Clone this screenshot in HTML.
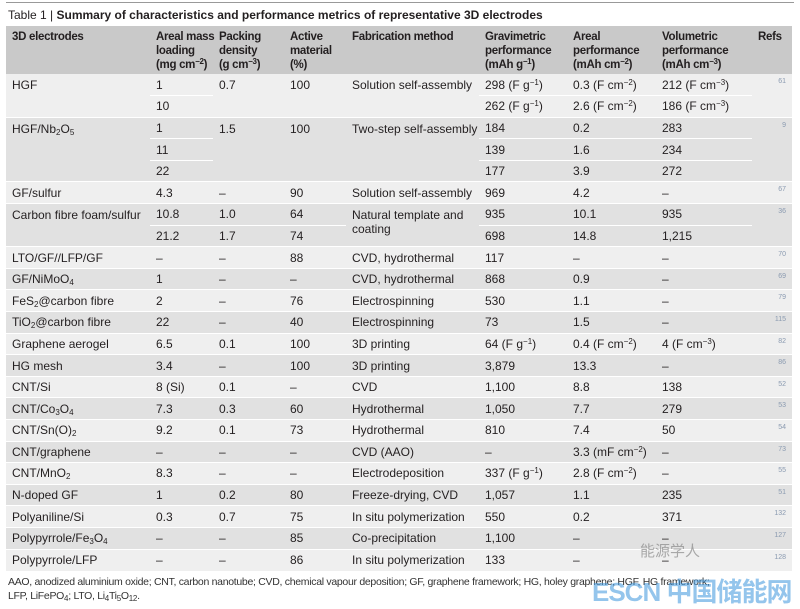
<!DOCTYPE html>
<html><head><meta charset="utf-8"><style>
html,body{margin:0;padding:0;background:#fff;}
body{width:800px;height:605px;position:relative;overflow:hidden;font-family:"Liberation Sans",Arial,sans-serif;color:#231f20;}
.topline{position:absolute;left:6px;right:6px;top:2px;height:1px;background:#999;}
.title{position:absolute;left:8px;top:8px;font-size:12px;white-space:nowrap;}
.title b{font-weight:bold;}
table{position:absolute;left:6px;top:26px;border-collapse:collapse;table-layout:fixed;width:786px;font-size:12px;}
td,th{padding:0 0 0 6px;text-align:left;vertical-align:middle;height:21.6px;white-space:nowrap;border-top:1px solid #fff;box-sizing:border-box;}
th{vertical-align:top;font-weight:bold;background:#c9c9c9;height:48px;padding-top:4px;line-height:14px;border-top:none;font-size:11.5px;letter-spacing:-0.3px;}
tbody.l td{background:#efefef;}
tbody.d td{background:#e1e1e1;}
td.top{vertical-align:top;padding-top:4px;}
td.ref{font-size:7px;color:#8a9ab0;text-align:right;padding-right:6px;vertical-align:top;padding-top:4px;}
td.nb{border-top:none;}
sub{font-size:8px;vertical-align:-2px;line-height:0;}
sup{font-size:8px;vertical-align:4px;line-height:0;}
.foot{position:absolute;left:8px;top:575px;font-size:10.5px;line-height:14px;color:#333;letter-spacing:-0.3px;}
.wm{position:absolute;left:592px;top:572px;font-size:26px;font-weight:bold;color:rgba(60,150,220,0.55);white-space:nowrap;font-family:"Liberation Sans","Noto Sans CJK SC",sans-serif;letter-spacing:-1px;}
.wm2{position:absolute;left:640px;top:540px;font-size:15px;color:rgba(120,120,120,0.6);font-family:"Liberation Sans","Noto Sans CJK SC",sans-serif;}
</style></head><body>
<div class="topline"></div>
<div class="title">Table 1 | <b>Summary of characteristics and performance metrics of representative 3D electrodes</b></div>
<table>
<colgroup><col style="width:144px"><col style="width:63px"><col style="width:71px"><col style="width:62px"><col style="width:133px"><col style="width:88px"><col style="width:89px"><col style="width:96px"><col style="width:40px"></colgroup>
<thead><tr><th>3D electrodes</th><th>Areal mass<br>loading<br>(mg cm<sup>−2</sup>)</th><th>Packing<br>density<br>(g cm<sup>−3</sup>)</th><th>Active<br>material<br>(%)</th><th>Fabrication method</th><th>Gravimetric<br>performance<br>(mAh g<sup>−1</sup>)</th><th>Areal<br>performance<br>(mAh cm<sup>−2</sup>)</th><th>Volumetric<br>performance<br>(mAh cm<sup>−3</sup>)</th><th>Refs</th></tr></thead>
<tbody class="l">
<tr><td rowspan="2" class="top nb">HGF</td><td class="nb">1</td><td rowspan="2" class="top nb">0.7</td><td rowspan="2" class="top nb">100</td><td rowspan="2" class="top nb">Solution self-assembly</td><td class="nb">298 (F g<sup>−1</sup>)</td><td class="nb">0.3 (F cm<sup>−2</sup>)</td><td class="nb">212 (F cm<sup>−3</sup>)</td><td rowspan="2" class="ref nb">61</td></tr>
<tr><td>10</td><td>262 (F g<sup>−1</sup>)</td><td>2.6 (F cm<sup>−2</sup>)</td><td>186 (F cm<sup>−3</sup>)</td></tr>
</tbody>
<tbody class="d">
<tr><td rowspan="3" class="top">HGF/Nb<sub>2</sub>O<sub>5</sub></td><td>1</td><td rowspan="3" class="top">1.5</td><td rowspan="3" class="top">100</td><td rowspan="3" class="top">Two-step self-assembly</td><td>184</td><td>0.2</td><td>283</td><td rowspan="3" class="ref">9</td></tr>
<tr><td>11</td><td>139</td><td>1.6</td><td>234</td></tr>
<tr><td>22</td><td>177</td><td>3.9</td><td>272</td></tr>
</tbody>
<tbody class="l"><tr><td>GF/sulfur</td><td>4.3</td><td>–</td><td>90</td><td>Solution self-assembly</td><td>969</td><td>4.2</td><td>–</td><td class="ref">67</td></tr></tbody>
<tbody class="d">
<tr><td rowspan="2" class="top">Carbon fibre foam/sulfur</td><td>10.8</td><td>1.0</td><td>64</td><td rowspan="2" class="top" style="line-height:14px">Natural template and<br>coating</td><td>935</td><td>10.1</td><td>935</td><td rowspan="2" class="ref">36</td></tr>
<tr><td>21.2</td><td>1.7</td><td>74</td><td>698</td><td>14.8</td><td>1,215</td></tr>
</tbody>
<tbody class="l"><tr><td>LTO/GF//LFP/GF</td><td>–</td><td>–</td><td>88</td><td>CVD, hydrothermal</td><td>117</td><td>–</td><td>–</td><td class="ref">70</td></tr></tbody>
<tbody class="d"><tr><td>GF/NiMoO<sub>4</sub></td><td>1</td><td>–</td><td>–</td><td>CVD, hydrothermal</td><td>868</td><td>0.9</td><td>–</td><td class="ref">69</td></tr></tbody>
<tbody class="l"><tr><td>FeS<sub>2</sub>@carbon fibre</td><td>2</td><td>–</td><td>76</td><td>Electrospinning</td><td>530</td><td>1.1</td><td>–</td><td class="ref">79</td></tr></tbody>
<tbody class="d"><tr><td>TiO<sub>2</sub>@carbon fibre</td><td>22</td><td>–</td><td>40</td><td>Electrospinning</td><td>73</td><td>1.5</td><td>–</td><td class="ref">115</td></tr></tbody>
<tbody class="l"><tr><td>Graphene aerogel</td><td>6.5</td><td>0.1</td><td>100</td><td>3D printing</td><td>64 (F g<sup>−1</sup>)</td><td>0.4 (F cm<sup>−2</sup>)</td><td>4 (F cm<sup>−3</sup>)</td><td class="ref">82</td></tr></tbody>
<tbody class="d"><tr><td>HG mesh</td><td>3.4</td><td>–</td><td>100</td><td>3D printing</td><td>3,879</td><td>13.3</td><td>–</td><td class="ref">86</td></tr></tbody>
<tbody class="l"><tr><td>CNT/Si</td><td>8 (Si)</td><td>0.1</td><td>–</td><td>CVD</td><td>1,100</td><td>8.8</td><td>138</td><td class="ref">52</td></tr></tbody>
<tbody class="d"><tr><td>CNT/Co<sub>3</sub>O<sub>4</sub></td><td>7.3</td><td>0.3</td><td>60</td><td>Hydrothermal</td><td>1,050</td><td>7.7</td><td>279</td><td class="ref">53</td></tr></tbody>
<tbody class="l"><tr><td>CNT/Sn(O)<sub>2</sub></td><td>9.2</td><td>0.1</td><td>73</td><td>Hydrothermal</td><td>810</td><td>7.4</td><td>50</td><td class="ref">54</td></tr></tbody>
<tbody class="d"><tr><td>CNT/graphene</td><td>–</td><td>–</td><td>–</td><td>CVD (AAO)</td><td>–</td><td>3.3 (mF cm<sup>−2</sup>)</td><td>–</td><td class="ref">73</td></tr></tbody>
<tbody class="l"><tr><td>CNT/MnO<sub>2</sub></td><td>8.3</td><td>–</td><td>–</td><td>Electrodeposition</td><td>337 (F g<sup>−1</sup>)</td><td>2.8 (F cm<sup>−2</sup>)</td><td>–</td><td class="ref">55</td></tr></tbody>
<tbody class="d"><tr><td>N-doped GF</td><td>1</td><td>0.2</td><td>80</td><td>Freeze-drying, CVD</td><td>1,057</td><td>1.1</td><td>235</td><td class="ref">51</td></tr></tbody>
<tbody class="l"><tr><td>Polyaniline/Si</td><td>0.3</td><td>0.7</td><td>75</td><td>In situ polymerization</td><td>550</td><td>0.2</td><td>371</td><td class="ref">132</td></tr></tbody>
<tbody class="d"><tr><td>Polypyrrole/Fe<sub>3</sub>O<sub>4</sub></td><td>–</td><td>–</td><td>85</td><td>Co-precipitation</td><td>1,100</td><td>–</td><td>–</td><td class="ref">127</td></tr></tbody>
<tbody class="l"><tr><td>Polypyrrole/LFP</td><td>–</td><td>–</td><td>86</td><td>In situ polymerization</td><td>133</td><td>–</td><td>–</td><td class="ref">128</td></tr></tbody>
</table>
<div class="foot">AAO, anodized aluminium oxide; CNT, carbon nanotube; CVD, chemical vapour deposition; GF, graphene framework; HG, holey graphene; HGF, HG framework;<br>LFP, LiFePO<sub>4</sub>; LTO, Li<sub>4</sub>Ti<sub>5</sub>O<sub>12</sub>.</div>
<div class="wm2">能源学人</div>
<div class="wm">ESCN 中国储能网</div>
</body></html>
